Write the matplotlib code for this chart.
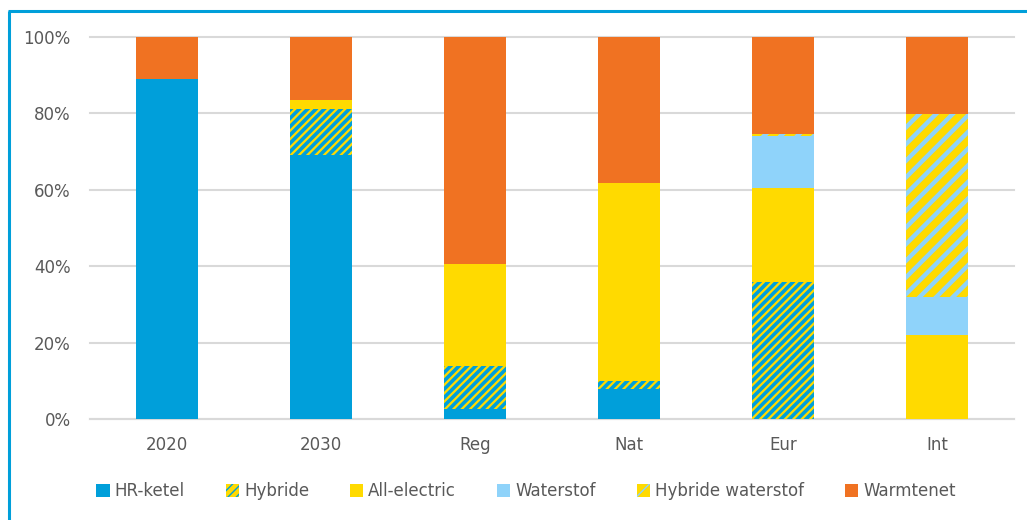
import matplotlib
matplotlib.use("Agg")
import matplotlib.pyplot as plt
from matplotlib.patches import Patch
from matplotlib.lines import Line2D
import numpy as np

categories = ["2020", "2030", "Reg", "Nat", "Eur", "Int"]
hr_ketel = [89.0, 69.0, 2.6, 7.9, 0.0, 0.0]
hybride = [0.0, 12.2, 11.3, 2.0, 35.9, 0.0]
all_electric = [0.0, 2.3, 26.7, 51.9, 24.6, 22.0]
waterstof = [0.0, 0.0, 0.0, 0.0, 13.6, 9.9]
hybride_waterstof = [0.0, 0.0, 0.0, 0.0, 0.5, 47.9]
warmtenet = [11.0, 16.5, 59.4, 38.2, 25.4, 20.2]
series_names = ["HR-ketel", "Hybride", "All-electric", "Waterstof", "Hybride waterstof", "Warmtenet"]

BLUE = "#009FDA"
YELLOW = "#FFDA00"
LBLUE = "#8FD3FA"
ORANGE = "#F07222"
GRID = "#D9D9D9"
TXT = "#595959"

plt.rcParams["font.family"] = ["DejaVu Sans"]

fig = plt.figure(figsize=(10.27, 5.20), dpi=100)
ax = fig.add_axes([90 / 1027, 1 - 419 / 520, (1014 - 90) / 1027, (419 - 37) / 520])

x = np.arange(len(categories))
w = 0.4
bottom = np.zeros(len(categories))

def add(vals, **kw):
    global bottom
    v = np.array(vals) / 100.0
    bars = ax.bar(x, v, w, bottom=bottom, zorder=3, **kw)
    bottom = bottom + v
    return bars

add(hr_ketel, color=BLUE, linewidth=0)
with plt.rc_context({"hatch.linewidth": 2.6}):
    add(hybride, facecolor=YELLOW, edgecolor=BLUE, hatch="////", linewidth=0)
add(all_electric, color=YELLOW, linewidth=0)
add(waterstof, color=LBLUE, linewidth=0)
with plt.rc_context({"hatch.linewidth": 3.2}):
    add(hybride_waterstof, facecolor=YELLOW, edgecolor=LBLUE, hatch="//", linewidth=0)
add(warmtenet, color=ORANGE, linewidth=0)

ax.set_xlim(-0.5, len(categories) - 0.5)
ax.set_ylim(0, 1)
ax.set_yticks(np.arange(0, 1.01, 0.2))
ax.set_yticklabels([f"{int(round(t*100))}%" for t in np.arange(0, 1.01, 0.2)])
ax.set_xticks(x)
ax.set_xticklabels(categories)
ax.yaxis.grid(True, color=GRID, linewidth=1.5, zorder=0)
for gl in ax.yaxis.get_gridlines():
    gl.set_clip_on(False)
ax.set_axisbelow(True)
for s in ["left", "right", "top"]:
    ax.spines[s].set_visible(False)
ax.spines["bottom"].set_color(GRID)
ax.spines["bottom"].set_linewidth(1.5)
ax.tick_params(axis="both", length=0, labelsize=12, labelcolor=TXT)
ax.tick_params(axis="y", pad=14)
ax.tick_params(axis="x", pad=12)

with plt.rc_context({"hatch.linewidth": 2.6}):
    h_hyb = Patch(facecolor=YELLOW, edgecolor=BLUE, hatch="////", linewidth=0)
with plt.rc_context({"hatch.linewidth": 3.2}):
    h_hw = Patch(facecolor=YELLOW, edgecolor=LBLUE, hatch="//", linewidth=0)
handles = [
    Patch(facecolor=BLUE, linewidth=0),
    h_hyb,
    Patch(facecolor=YELLOW, linewidth=0),
    Patch(facecolor=LBLUE, linewidth=0),
    h_hw,
    Patch(facecolor=ORANGE, linewidth=0),
]
leg = fig.legend(handles, series_names, loc="center", bbox_to_anchor=(526 / 1027, 1 - 491 / 520),
                 ncol=6, frameon=False, fontsize=12, handlelength=0.8, handleheight=0.8,
                 handletextpad=0.3, columnspacing=2.45, labelcolor=TXT)

# blue frame
fig.add_artist(Line2D([9 / 1027, 9 / 1027], [0, 1 - 10.5 / 520], transform=fig.transFigure,
                      color=BLUE, linewidth=2.2, solid_capstyle="butt"))
fig.add_artist(Line2D([8 / 1027, 1], [1 - 10.5 / 520, 1 - 10.5 / 520], transform=fig.transFigure,
                      color=BLUE, linewidth=2.2, solid_capstyle="butt"))

fig.savefig("out.png", dpi=100)
